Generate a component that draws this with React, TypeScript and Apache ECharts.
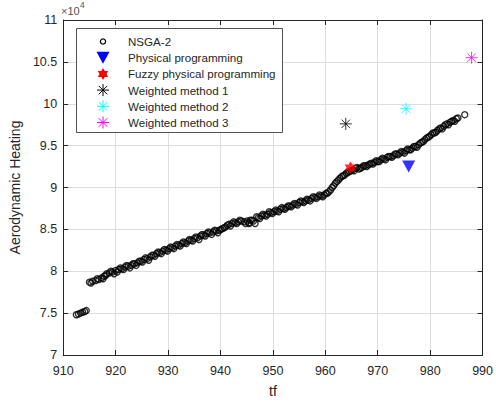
import React, { useEffect, useRef } from "react";
import * as echarts from "echarts";

// NSGA-2 Pareto front (tf, Aerodynamic Heating ×10^4)
const nsgaPoints: [number, number][] = [
  [912.5, 7.48], [912.9, 7.49], [913.3, 7.5], [913.7, 7.51], [914.1, 7.52], [914.4, 7.53],
  [915.0, 7.87], [915.6, 7.88], [916.2, 7.89], [916.8, 7.9], [917.3, 7.92], [917.8, 7.94],
  [918.3, 7.97], [918.8, 7.98], [919.4, 7.99], [920.0, 8.01], [920.6, 8.02], [921.2, 8.03],
  [921.8, 8.05], [922.4, 8.06], [923.0, 8.07], [923.6, 8.09], [924.2, 8.1], [924.8, 8.12],
  [925.4, 8.14], [926.0, 8.15], [926.6, 8.17], [927.2, 8.19], [927.8, 8.21], [928.4, 8.22],
  [929.0, 8.24], [929.6, 8.25], [930.2, 8.27], [930.8, 8.28], [931.4, 8.3], [932.0, 8.31],
  [932.6, 8.33], [933.2, 8.34], [933.8, 8.36], [934.4, 8.37], [935.0, 8.39], [935.6, 8.4],
  [936.2, 8.42], [936.8, 8.43], [937.4, 8.45], [938.0, 8.46], [938.6, 8.47], [939.2, 8.48],
  [939.8, 8.49], [940.4, 8.51], [941.0, 8.53], [941.6, 8.56], [942.2, 8.57], [942.8, 8.58],
  [943.4, 8.59], [944.0, 8.6], [945.5, 8.57], [944.8, 8.57], [945.4, 8.58], [946.0, 8.61],
  [946.6, 8.57], [947.2, 8.64], [947.8, 8.66], [948.4, 8.67], [949.0, 8.68], [949.6, 8.7],
  [950.2, 8.71], [950.8, 8.72], [951.4, 8.74], [952.0, 8.75], [952.6, 8.76], [953.2, 8.78],
  [953.8, 8.79], [954.4, 8.8], [955.0, 8.82], [955.6, 8.83], [956.2, 8.84], [956.8, 8.85],
  [957.4, 8.87], [958.0, 8.88], [958.6, 8.89], [959.2, 8.9], [959.8, 8.91], [960.4, 8.93],
  [961.0, 8.97], [961.6, 9.02], [962.2, 9.07], [962.8, 9.11], [963.4, 9.14], [964.0, 9.17],
  [964.6, 9.19], [965.2, 9.21], [965.8, 9.23], [966.4, 9.22], [967.0, 9.24], [967.6, 9.26],
  [968.2, 9.27], [968.8, 9.29], [969.4, 9.3], [970.0, 9.31], [970.6, 9.33], [971.2, 9.34],
  [971.8, 9.36], [972.4, 9.37], [973.0, 9.38], [973.6, 9.4], [974.2, 9.41], [974.8, 9.42],
  [975.4, 9.44], [976.0, 9.45], [976.6, 9.47], [977.2, 9.49], [977.8, 9.51], [978.4, 9.54],
  [979.0, 9.57], [979.6, 9.6], [980.2, 9.63], [980.8, 9.65], [981.4, 9.68], [982.0, 9.71],
  [982.6, 9.73], [983.2, 9.76], [983.8, 9.78], [984.4, 9.8], [985.0, 9.82], [986.6, 9.87],
  [915.3, 7.86], [916.5, 7.91], [917.6, 7.91], [918.1, 7.95], [919.1, 8.0], [919.7, 7.97],
  [920.3, 7.99], [920.9, 8.04], [921.5, 8.02], [922.1, 8.07], [922.7, 8.04], [923.3, 8.09],
  [923.9, 8.07], [924.5, 8.12], [925.1, 8.11], [925.7, 8.16], [926.3, 8.13], [926.9, 8.19],
  [927.5, 8.18], [928.1, 8.23], [928.7, 8.21], [929.3, 8.26], [929.9, 8.24], [930.5, 8.29],
  [931.1, 8.27], [931.7, 8.32], [932.3, 8.3], [932.9, 8.35], [933.5, 8.33], [934.1, 8.38],
  [934.7, 8.36], [935.3, 8.41], [935.9, 8.38], [936.5, 8.44], [937.1, 8.42], [937.7, 8.47],
  [938.3, 8.44], [938.9, 8.49], [939.5, 8.46], [940.1, 8.5], [940.7, 8.52], [941.3, 8.55],
  [941.9, 8.54], [942.5, 8.59], [943.1, 8.57], [943.7, 8.61], [944.5, 8.59], [945.1, 8.6],
  [945.7, 8.61], [946.3, 8.6], [946.9, 8.65], [947.5, 8.63], [948.1, 8.68], [948.7, 8.66],
  [949.3, 8.71], [949.9, 8.69], [950.5, 8.73], [951.1, 8.71], [951.7, 8.76], [952.3, 8.74],
  [952.9, 8.78], [953.5, 8.77], [954.1, 8.81], [954.7, 8.79], [955.3, 8.84], [955.9, 8.82],
  [956.5, 8.86], [957.1, 8.84], [957.7, 8.89], [958.3, 8.87], [958.9, 8.91], [959.5, 8.89],
  [960.1, 8.93], [960.7, 8.95], [961.3, 9.0], [961.9, 9.05], [962.5, 9.09], [963.1, 9.13],
  [963.7, 9.15], [964.3, 9.18], [964.9, 9.2], [965.5, 9.2], [966.1, 9.24], [966.7, 9.23],
  [967.3, 9.26], [967.9, 9.25], [968.5, 9.28], [969.1, 9.28], [969.7, 9.32], [970.3, 9.31],
  [970.9, 9.35], [971.5, 9.33], [972.1, 9.37], [972.7, 9.36], [973.3, 9.4], [973.9, 9.39],
  [974.5, 9.43], [975.1, 9.41], [975.7, 9.46], [976.3, 9.45], [976.9, 9.49], [977.5, 9.48],
  [978.1, 9.53], [978.7, 9.55], [979.3, 9.59], [979.9, 9.61], [980.5, 9.65], [981.1, 9.66],
  [981.7, 9.7], [982.3, 9.7], [982.9, 9.75], [983.5, 9.75], [984.1, 9.79], [984.7, 9.79],
  [985.3, 9.83],
];
const physicalPoint: [number, number][] = [[975.9, 9.25]];
const fuzzyPoint: [number, number][] = [[964.8, 9.24]];
const weighted1Point: [number, number][] = [[963.9, 9.76]];
const weighted2Point: [number, number][] = [[975.4, 9.94]];
const weighted3Point: [number, number][] = [[987.9, 10.55]];

const legendNames = [
  "NSGA-2",
  "Physical programming",
  "Fuzzy physical programming",
  "Weighted method 1",
  "Weighted method 2",
  "Weighted method 3",
];
const xLabelTitle = "tf";
const yLabelTitle = "Aerodynamic Heating";
const exponentBase = "×10";
const exponentPower = "4";

const FONT = "'Liberation Sans', Arial, Helvetica, sans-serif";
const AXIS_COLOR = "#262626";

const hexPts = Array.from({ length: 12 }, (_, i) => {
  const r = i % 2 ? 0.5774 : 1;
  const a = -Math.PI / 2 + (i * Math.PI) / 6;
  return [r * Math.cos(a), r * Math.sin(a)];
});
const hexPath =
  "path://" +
  hexPts.map((p, i) => (i === 0 ? "M" : "L") + (p[0] * 10).toFixed(3) + " " + (p[1] * 10).toFixed(3)).join(" ") +
  " Z";
const asteriskPath =
  "path://M0 -10 L0 10 M-10 0 L10 0 M-7.07 -7.07 L7.07 7.07 M-7.07 7.07 L7.07 -7.07";

function legendMarker(i: number, cx: number, cy: number): any[] {
  const Z = 101;
  if (i === 0) {
    return [{ type: "circle", z: Z, shape: { cx, cy, r: 2.6 }, style: { fill: "none", stroke: "#000", lineWidth: 1.3 } }];
  }
  if (i === 1) {
    return [{
      type: "polygon",
      z: Z,
      shape: { points: [[cx - 6.5, cy - 6], [cx + 6.5, cy - 6], [cx, cy + 6]] },
      style: { fill: "#0000ff" },
    }];
  }
  if (i === 2) {
    return [{
      type: "polygon",
      z: Z,
      shape: { points: hexPts.map((p) => [cx + p[0] * 6, cy + p[1] * 6]) },
      style: { fill: "#ff0000" },
    }];
  }
  const color = i === 3 ? "#000000" : i === 4 ? "#00ffff" : "#ff00ff";
  const r = 6;
  const d = r * 0.7071;
  return [
    [0, -r, 0, r],
    [-r, 0, r, 0],
    [-d, -d, d, d],
    [-d, d, d, -d],
  ].map((s) => ({
    type: "line",
    z: Z,
    shape: { x1: cx + s[0], y1: cy + s[1], x2: cx + s[2], y2: cy + s[3] },
    style: { stroke: color, lineWidth: 1 },
  }));
}

export default function App() {
  const ref = useRef<HTMLDivElement>(null);
  useEffect(() => {
    if (!ref.current) return;
    const chart = echarts.init(ref.current, undefined, { renderer: "svg" });

    const legendX = 76;
    const legendY = 28;
    const legendW = 206;
    const legendH = 104;
    const rowY0 = 41.5;
    const rowStep = 16.2;
    const legendChildren: any[] = [
      {
        type: "rect",
        z: 100,
        shape: { x: legendX + 0.5, y: legendY + 0.5, width: legendW, height: legendH },
        style: { fill: "#fff", stroke: AXIS_COLOR, lineWidth: 0.8 },
      },
    ];
    legendNames.forEach((name, i) => {
      const cy = rowY0 + i * rowStep;
      legendChildren.push(...legendMarker(i, 103, cy));
      legendChildren.push({
        type: "text",
        z: 101,
        x: 128,
        y: cy,
        style: {
          text: name,
          font: `11.6px ${FONT}`,
          fill: AXIS_COLOR,
          verticalAlign: "middle",
          textAlign: "left",
        },
      });
    });

    const xBase = {
      type: "value",
      min: 910,
      max: 990,
      interval: 10,
      axisLine: { show: true, onZero: false, lineStyle: { color: AXIS_COLOR, width: 1 } },
      axisTick: { show: true, inside: true, length: 5, lineStyle: { color: AXIS_COLOR } },
    };
    const yBase = {
      type: "value",
      min: 7,
      max: 11,
      interval: 0.5,
      axisLine: { show: true, onZero: false, lineStyle: { color: AXIS_COLOR, width: 1 } },
      axisTick: { show: true, inside: true, length: 5, lineStyle: { color: AXIS_COLOR } },
    };

    chart.setOption({
      animation: false,
      backgroundColor: "#fff",
      grid: { left: 62, right: 8, top: 20, bottom: 47 },
      xAxis: [
        {
          ...xBase,
          position: "bottom",
          name: xLabelTitle,
          nameLocation: "middle",
          nameGap: 29,
          nameTextStyle: { fontFamily: FONT, fontSize: 14, color: AXIS_COLOR },
          axisLabel: { fontFamily: FONT, fontSize: 12.5, color: AXIS_COLOR, margin: 9 },
          splitLine: { show: true, lineStyle: { color: "#dedede", width: 1 } },
        },
        {
          ...xBase,
          position: "top",
          axisLabel: { show: false },
          splitLine: { show: false },
        },
      ],
      yAxis: [
        {
          ...yBase,
          position: "left",
          name: yLabelTitle,
          nameLocation: "middle",
          nameGap: 36,
          nameRotate: 90,
          nameTextStyle: { fontFamily: FONT, fontSize: 14, color: AXIS_COLOR },
          axisLabel: {
            fontFamily: FONT,
            fontSize: 12.5,
            color: AXIS_COLOR,
            margin: 6,
            formatter: (v: number) => String(Math.round(v * 10) / 10),
          },
          splitLine: { show: true, lineStyle: { color: "#dedede", width: 1 } },
        },
        {
          ...yBase,
          position: "right",
          axisLabel: { show: false },
          splitLine: { show: false },
        },
      ],
      series: [
        {
          name: legendNames[0],
          type: "scatter",
          data: nsgaPoints,
          symbol: "circle",
          symbolSize: 6,
          itemStyle: { color: "rgba(0,0,0,0)", borderColor: "#000", borderWidth: 1.4 },
          z: 2,
        },
        {
          name: legendNames[1],
          type: "scatter",
          data: physicalPoint,
          symbol: "triangle",
          symbolRotate: 180,
          symbolSize: [13, 12],
          itemStyle: { color: "#0000ff" },
          z: 3,
        },
        {
          name: legendNames[2],
          type: "scatter",
          data: fuzzyPoint,
          symbol: hexPath,
          symbolSize: 12,
          itemStyle: { color: "#ff0000" },
          z: 3,
        },
        {
          name: legendNames[3],
          type: "scatter",
          data: weighted1Point,
          symbol: asteriskPath,
          symbolSize: 12,
          itemStyle: { color: "none", borderColor: "#000000", borderWidth: 1 },
          z: 3,
        },
        {
          name: legendNames[4],
          type: "scatter",
          data: weighted2Point,
          symbol: asteriskPath,
          symbolSize: 12,
          itemStyle: { color: "none", borderColor: "#00ffff", borderWidth: 1 },
          z: 3,
        },
        {
          name: legendNames[5],
          type: "scatter",
          data: weighted3Point,
          symbol: asteriskPath,
          symbolSize: 12,
          itemStyle: { color: "none", borderColor: "#ff00ff", borderWidth: 1 },
          z: 3,
        },
      ],
      graphic: [
        {
          type: "text",
          x: 61,
          y: 16.5,
          z: 100,
          style: {
            text: exponentBase,
            font: `11px ${FONT}`,
            fill: "#555",
            verticalAlign: "bottom",
            textAlign: "left",
          },
        },
        {
          type: "text",
          x: 80,
          y: 9.5,
          z: 100,
          style: {
            text: exponentPower,
            font: `8.5px ${FONT}`,
            fill: "#555",
            verticalAlign: "bottom",
            textAlign: "left",
          },
        },
        { type: "group", children: legendChildren },
      ],
    });
    return () => chart.dispose();
  }, []);
  return (
    <div
      ref={ref}
      style={{ position: "fixed", left: 0, top: 0, width: 496, height: 403 }}
    />
  );
}
